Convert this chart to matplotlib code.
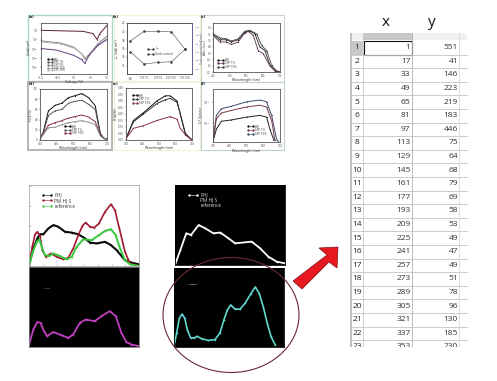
import matplotlib
matplotlib.use("Agg")
import matplotlib.pyplot as plt
from matplotlib.patches import Ellipse, Polygon, Rectangle
import numpy as np

plt.rcParams['font.family'] = ['Open Sans', 'DejaVu Sans']
W, H = 497, 381

# ---------- data ----------
row_x = [1,17,33,49,65,81,97,113,129,145,161,177,193,209,225,241,257,273,289,305,321,337,353]
row_y = [551,41,146,223,219,183,446,75,64,68,79,69,58,53,49,47,49,51,78,96,130,185,230]

a_v1 = [-1,0.28,0.58,0.7,0.78,1]
a_e1 = [1,0.89,0.64,0,0.64,1.54]
a_v2 = [-1,-0.42,-0.02,0.23,0.34,0.48,0.73,1]
a_e2 = [-0.14,-0.36,-0.79,-1.5,-2.14,-1.5,-0.43,0.36]
a_v3 = [-1,-0.42,0.03,0.28,0.35,0.53,0.78,1]
a_e3 = [-0.25,-0.46,-0.96,-1.68,-1.93,-1.32,-0.43,0.11]
a_v4 = [-1,-0.52,-0.02,0.23,0.33,0.46,0.73,1]
a_e4 = [-0.96,-1.14,-1.68,-2.14,-2.57,-1.68,-0.61,0]

b_cat = ['BHJ','SXP 1%','SXP 5%','SXP 10%','SXP 20%']
b_jsc = [17.8,20.05,20.05,19.9,15.8]
b_dark = [-5,-6.48,-6.28,-6.2,-4.68]

c_x1 = [300,340,380,410,450,490,520,550,580,610,640,670,700]
c_y1 = [1.21,1.02,1.02,.95,1.02,1.26,1.29,1.21,.79,.68,.21,.05,0]
c_x2 = [300,340,380,410,450,490,510,540,570,600,640,670,700]
c_y2 = [1.16,.95,.95,.87,.95,1.23,1.29,1.16,.68,.58,.19,.03,0]
c_x3 = [300,340,380,410,450,490,520,560,590,620,650,680,700]
c_y3 = [1.21,1.08,1.05,.98,1.05,1.29,1.32,1.21,.84,.68,.21,.03,0]

d_x = [300,320,350,390,430,470,510,550,590,630,660,680,700]
d_a = [2,16,57,68,72,83,87,91,83,67,13,4,2]
d_b = [2,14,48,57,60,72,76,78,70,60,11,3,1]
d_c = [2,12,29,34,38,43,46,49,45,36,10,3,1]
d_d = [2,11,24,25,30,34,36,38,35,30,8,3,1]

e_x = [300,345,406,487,538,568,609,629,660,700]
e_a = [.01,.15,.21,.30,.34,.34,.30,.20,.05,0]
e_b = [.01,.14,.20,.28,.31,.32,.29,.20,.04,0]
e_x3 = [300,345,406,487,568,609,629,660,700]
e_c = [.01,.09,.11,.15,.18,.16,.09,.04,0]

f_x1 = [300,320,350,410,500,580,620,650,680,690]
f_e1 = [11.17,12.37,12.68,12.79,13,13.08,13,12.37,11.25,11.17]
f_x2 = [300,320,350,410,500,580,620,650,670]
f_e2 = [11.17,12.21,12.48,12.6,12.76,12.84,12.76,12.13,11.21]
f_x3 = [300,320,350,410,500,580,620,640,664]
f_e3 = [11.17,11.73,12.1,12.16,12.29,12.37,12.29,11.73,11.21]

phj_x = [300,332,363,380,404,441,477,513,562,610,659,707,744,792,853,896,937,998,1046,1100]
phj_y = [1,21,34,38,38,45,49,47,41,40,38,33,28,27,29,25,19,7,4,2]
pm_x = [300,324,344,361,380,397,421,460,501,550,586,622,659,688,712,744,775,809,853,896,925,957,998,1034,1100]
pm_y = [1,23,38,41,36,19,11,15,11,8,10,21,37,48,52,47,46,51,65,74,67,45,17,3,0]
ref_x = [300,324,356,375,392,416,445,477,525,574,610,647,695,756,809,853,896,930,962,998,1034,1100]
ref_y = [0,15,29,32,23,13,12,15,12,8,11,23,32,31,37,42,44,37,21,7,2,0]
mag_x = [300,331,360,384,408,432,476,537,585,621,670,713,778,827,887,931,972,1008,1044,1100]
mag_y = [2,21,30,29,19,13,18,14,11,15,29,33,31,37,43,37,17,6,3,1]
wht_x = [300,339,382,416,472,520,580,629,689,737,858,919,979,1040,1100]
wht_y = [0,18,38,36,48,44,38,39,32,26,28,20,10,4,2]
cyn_x = [300,319,339,358,378,397,421,445,469,501,550,598,634,663,688,712,744,780,816,860,891,920,949,978,1005,1034]
cyn_y = [1,17,35,40,35,21,11,11,13,10,8,9,17,33,45,51,46,46,53,65,73,65,49,29,13,3]

legend_top = ['PHJ','PM HJ S','reference']
legend_a = ['BHJ','SXP 1%','SXP 5%','SXP 10%','SXP 20%']

# ---------- helpers ----------
fig = plt.figure(figsize=(W/100, H/100), dpi=100, facecolor='white')
bg = fig.add_axes([0,0,1,1]); bg.set_xlim(0,W); bg.set_ylim(H,0); bg.axis('off')

def panel(x0,y0,x1,y1,fc='white',ec='#555555',lw=0.6):
    ax = fig.add_axes([x0/W,1-y1/H,(x1-x0)/W,(y1-y0)/H], facecolor=fc)
    for s in ax.spines.values():
        s.set_linewidth(lw); s.set_color(ec)
    ax.tick_params(length=1, width=0.3, labelsize=2.2, pad=0.5, colors='#444444')
    return ax

def label(ax,xl,yl):
    ax.set_xlabel(xl, fontsize=2.6, labelpad=0.3, color='#333333')
    ax.set_ylabel(yl, fontsize=2.4, labelpad=0.3, color='#333333')

def leg(ax, names, colors, lx, ly, dy, fs=2.4, tc='#333333', marker='s'):
    for i,(n,c) in enumerate(zip(names,colors)):
        yy = ly-i*dy
        ax.plot([lx,lx+0.07],[yy,yy],color=c,lw=0.4,marker=marker,ms=0.7,transform=ax.transAxes)
        ax.text(lx+0.1,yy,n,fontsize=fs,color=tc,va='center',transform=ax.transAxes)

def ln(ax,x,y,c,lw=0.7,ms=0.9):
    ax.plot(x,y,color=c,lw=lw,marker='o',ms=ms,mew=0,solid_joinstyle='round')

for (x,y,w,h,c,l) in [(28,15,84,66,'#a8d8c8',1.0),(28,82,84,68,'#b0b0b0',1.3),
                      (114,15,86,66,'#f0f2d8',0.8),(114,82,86,68,'#f0f2d8',0.8),
                      (201,15,83,67,'#c8d8c8',0.8),(201,82,83,68,'#c0d0d0',0.8)]:
    bg.add_patch(Rectangle((x,y),w,h,fill=False,ec=c,lw=l))
for (x,y,s) in [(29,17,'(a)'),(113,17,'(b)'),(201,17,'(c)'),(29,84,'(d)'),(113,84,'(e)'),(201,84,'(f)')]:
    bg.text(x,y,s,fontsize=3.2,fontweight='bold',va='center',color='#222222')

# (a)
ax = panel(41,23,107,74)
for v,e,c in [(a_v1,a_e1,'#5a2030'),(a_v2,a_e2,'#808080'),(a_v3,a_e3,'#b8b8b8'),(a_v4,a_e4,'#604080')]:
    ln(ax,v,10**np.array(e),c,0.7,0.6)
ax.set_yscale('log'); ax.set_xlim(-1,1); ax.set_ylim(10**-3.71,10**1.79)
ax.set_yticks([10.0**i for i in range(-3,2)]); ax.minorticks_off()
ax.set_xticks([-1,-0.5,0,0.5,1])
label(ax,'Voltage (V)','J (mA/cm²)')
leg(ax,legend_a,['#222222','#555555','#777777','#999999','#bbbbbb'],0.1,0.29,0.055,fs=2)

# (b)
ax = panel(127,23,192,74)
ax.plot(b_cat,b_jsc,color='#444444',lw=0.4,marker='s',ms=0.8)
ax.set_ylim(10,22); ax.set_xlim(-0.25,4.5)
ax.set_yticks([12,14,16,18,20,22])
ax.tick_params(axis='x',labelsize=1.8)
label(ax,'','J$_{sc}$ (mA/cm²)')
ax2 = ax.twinx()
ax2.plot(b_cat,10**np.array(b_dark),color='#444444',lw=0.4,marker='s',ms=0.8)
ax2.set_yscale('log'); ax2.set_ylim(10**-7.68,10**-1.52)
ax2.set_yticks([10.0**i for i in range(-7,-1)]); ax2.minorticks_off()
ax2.tick_params(length=1,width=0.3,labelsize=1.7,pad=0.4,colors='#6a5a9a')
ax2.set_ylabel('Dark current (mA/cm²)',fontsize=2.2,color='#6a5a9a')
ax2.yaxis.set_label_coords(1.12,0.5)
for s in ax2.spines.values(): s.set_linewidth(0.6); s.set_color('#555555')
ax2.spines['right'].set_color('#6a5a9a')
leg(ax,['J$_{sc}$','Dark current'],['#444444','#444444'],0.33,0.5,0.1,fs=2.2)

# (c)
ax = panel(213,23,280,72)
ln(ax,c_x1,c_y1,'#222222',0.6,0.9); ln(ax,c_x2,c_y2,'#5a3050',0.6,0.9); ln(ax,c_x3,c_y3,'#404040',0.6,0.9)
ax.set_xlim(300,700); ax.set_ylim(0,1.55)
ax.set_yticks(np.arange(0,1.5,0.2)); ax.set_xticks(range(300,701,100)); ax.tick_params(labelsize=1.8)
label(ax,'Wavelength (nm)','Abs. (a.u.)')
ax.yaxis.set_label_coords(-0.095,0.5)
leg(ax,legend_a[:1]+['SXP 1%','SXP 10%'],['#222222','#5a3050','#404040'],0.08,0.25,0.075,fs=2.2)

# (d)
ax = panel(40,89,107,140)
for y,c in [(d_a,'#111111'),(d_b,'#555555'),(d_c,'#8a3040'),(d_d,'#909090')]:
    ln(ax,d_x,y,c,0.7,0.8)
ax.set_xlim(300,700); ax.set_ylim(0,100)
ax.set_xticks([300,400,500,600,700]); ax.set_yticks(range(0,101,20))
label(ax,'Wavelength (nm)','EQE (%)')
leg(ax,legend_a[:1]+['SXP 1%','SXP 10%'],['#111111','#555555','#8a3040'],0.38,0.27,0.07,fs=2.2)

# (e)
ax = panel(126,88,192,140)
ln(ax,e_x,e_a,'#111111',0.7,0.8); ln(ax,e_x,e_b,'#333333',0.7,0.8); ln(ax,e_x3,e_c,'#8a3050',0.7,0.8)
ax.set_xlim(300,700); ax.set_ylim(0,0.4)
ax.set_xticks([300,400,500,600,700]); ax.set_yticks(np.arange(0,0.41,0.05))
label(ax,'Wavelength (nm)','R (A/W)')
leg(ax,legend_a[:1]+['SXP 1%','SXP 10%'],['#111111','#333333','#8a3050'],0.1,0.86,0.07,fs=2.2)

# (f)
ax = panel(213,89,280,142)
ln(ax,f_x1,10**np.array(f_e1),'#3a4a6a',0.7,0.8)
ln(ax,f_x2,10**np.array(f_e2),'#7a3a4a',0.7,0.8)
ln(ax,f_x3,10**np.array(f_e3),'#222222',0.7,0.8)
ax.set_yscale('log'); ax.set_xlim(300,700); ax.set_ylim(10**11.14,10**13.59)
ax.set_yticks([1e12,1e13]); ax.minorticks_off(); ax.set_xticks([300,400,500,600,700])
label(ax,'Wavelength (nm)','D* (Jones)')
leg(ax,legend_a[:1]+['SXP 1%','SXP 10%'],['#222222','#7a3a4a','#3a4a6a'],0.52,0.3,0.07,fs=2.2)

# bottom-left pair
ax = panel(29,185,139,266,ec='#aaaaaa')
ln(ax,phj_x,phj_y,'#0a0a0a',1.5,1.2)
ln(ax,pm_x,pm_y,'#a01830',1.2,1.2)
ln(ax,ref_x,ref_y,'#38c840',1.4,1.2)
ax.set_xlim(300,1100); ax.set_ylim(0,97)
ax.set_xticks(range(300,1101,100)); ax.set_yticks(range(0,97,24))
ax.tick_params(labelleft=False,labelbottom=False,direction='in',length=1.5,width=0.4,colors='#999999')
leg(ax,legend_top,['#0a0a0a','#a01830','#38c840'],0.13,0.88,0.07,fs=3.4)

ax = panel(29,267,139,347,fc='black',ec='#777777')
ln(ax,mag_x,mag_y,'#c040c0',1.3,1.3)
ax.set_xlim(300,1100); ax.set_ylim(0,96); ax.set_xticks([]); ax.set_yticks([])
ax.plot([0.14,0.18],[0.74,0.74],color='#666666',lw=0.4,transform=ax.transAxes)

# bottom-right pair
ax = panel(175,185,285,265,fc='black',ec='black')
ln(ax,wht_x,wht_y,'white',1.3,1.3)
ax.set_xlim(300,1100); ax.set_ylim(0,96); ax.set_xticks([]); ax.set_yticks([])
leg(ax,legend_top,['white','black','black'],0.13,0.88,0.07,fs=3.4,tc='#dddddd')

ax = panel(174,268,284,347,fc='black',ec='black')
ln(ax,cyn_x,cyn_y,'#60d8d0',1.2,1.2)
ax.set_xlim(300,1100); ax.set_ylim(0,96); ax.set_xticks([]); ax.set_yticks([])
ax.plot([0.14,0.2],[0.8,0.8],color='#888888',lw=0.5,transform=ax.transAxes)

# overlay: ellipse, arrow, table
ov = fig.add_axes([0,0,1,1]); ov.set_xlim(0,W); ov.set_ylim(H,0); ov.axis('off'); ov.patch.set_alpha(0)
ov.add_patch(Ellipse((231,315),136,115,fill=False,ec='#6a2a30',lw=0.8))
ov.add_patch(Polygon([(293,281),(302,289),(329,262),(337,268),(338,247),(319,248),(327,255)],
                     closed=True,fc='#e81820',ec='#801018',lw=0.5))

ov.text(386,23,'x',fontsize=11,ha='center',va='center',color='#111111')
ov.text(432,23,'y',fontsize=11,ha='center',va='center',color='#111111')
ov.add_patch(Rectangle((350,33),117,7,fc='#f0f0f0',ec='none'))
ov.add_patch(Rectangle((363,33),49,7,fc='#c8c8c8',ec='none'))
ov.add_patch(Rectangle((350,33),2,314,fc='#c0c0c0',ec='none'))
y0, dy = 47.7, 13.6
for i,(a,b) in enumerate(zip(row_x,row_y)):
    yc = y0+i*dy
    ov.text(357,yc,str(i+1),fontsize=6,ha='center',va='center',color='#222222')
    ov.text(410.5,yc,str(a),fontsize=6,ha='right',va='center',color='#333333')
    ov.text(458,yc,str(b),fontsize=6,ha='right',va='center',color='#333333')
    ov.plot([350,467],[yc+6.8,yc+6.8],color='#c4c4c4',lw=0.6)
ov.plot([363,363],[33,347],color='#c8c8c8',lw=0.6)
ov.plot([412,412],[33,347],color='#b0b0b0',lw=0.6)
ov.plot([458.5,458.5],[33,347],color='#d8d8d8',lw=0.6)
ov.add_patch(Rectangle((351,41),12,13.6,fc='#c8c8c8',ec='none',zorder=1))
ov.add_patch(Rectangle((364,41),47.5,13.6,fill=False,ec='#111111',lw=0.8))
ov.add_patch(Rectangle((345,347),130,34,fc='white',ec='none',zorder=5))

fig.savefig('out.png',dpi=100)
